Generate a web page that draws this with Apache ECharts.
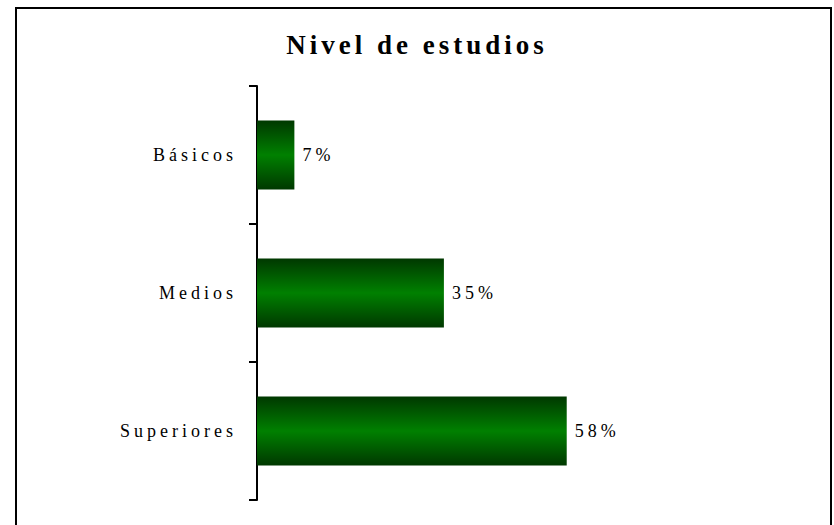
<!DOCTYPE html>
<html>
<head>
<meta charset="utf-8">
<script src="https://cdn.jsdelivr.net/npm/echarts@6/dist/echarts.min.js"></script>
<style>
  html, body { margin: 0; padding: 0; background: #fff; }
  #main { width: 834px; height: 525px; }
  #main text { letter-spacing: 4px; }
</style>
</head>
<body>
<div id="main"></div>
<script>
// Nivel de estudios
var categories = ['Superiores', 'Medios', 'Básicos'];
var percentages = [58, 35, 7];

var barColor = new echarts.graphic.LinearGradient(0, 0, 0, 1, [
    {offset: 0, color: '#003800'},
    {offset: 0.5, color: '#008000'},
    {offset: 1, color: '#003800'}
]);

var estudiosChart = echarts.init(document.getElementById('main'), null, {renderer: 'svg'});
var estudiosOptions = {
    animation: false,
    backgroundColor: '#fff',
    title : {
        text: 'Nivel de estudios',
        left: 'center',
        top: 26,
        textStyle: {
            fontFamily: 'Liberation Serif',
            fontWeight: 'bold',
            fontSize: 27,
            color: '#000'
        }
    },
    graphic: [
        {
            type: 'rect',
            shape: {x: 16, y: 8, width: 815, height: 540},
            style: {fill: 'none', stroke: '#000', lineWidth: 2},
            silent: true
        }
    ],
    grid: {
        left: 257,
        right: 43,
        top: 86,
        bottom: 25
    },
    xAxis: {
        type: 'value',
        min: 0,
        max: 100,
        show: false
    },
    yAxis: {
        type: 'category',
        data: categories,
        axisLine: {show: true, lineStyle: {color: '#000', width: 2}},
        axisTick: {show: true, length: 8, lineStyle: {color: '#000', width: 2}},
        axisLabel: {
            margin: 20,
            fontFamily: 'Liberation Serif',
            fontSize: 18,
            color: '#000'
        }
    },
    series: [
        {
            name: 'Nivel de estudios',
            type: 'bar',
            barWidth: '50%',
            data: percentages,
            itemStyle: {color: barColor},
            label: {
                show: true,
                position: 'right',
                distance: 8,
                formatter: '{c}%',
                fontFamily: 'Liberation Serif',
                fontSize: 18,
                color: '#000'
            }
        }
    ]
};
estudiosChart.setOption(estudiosOptions);
</script>
</body>
</html>
